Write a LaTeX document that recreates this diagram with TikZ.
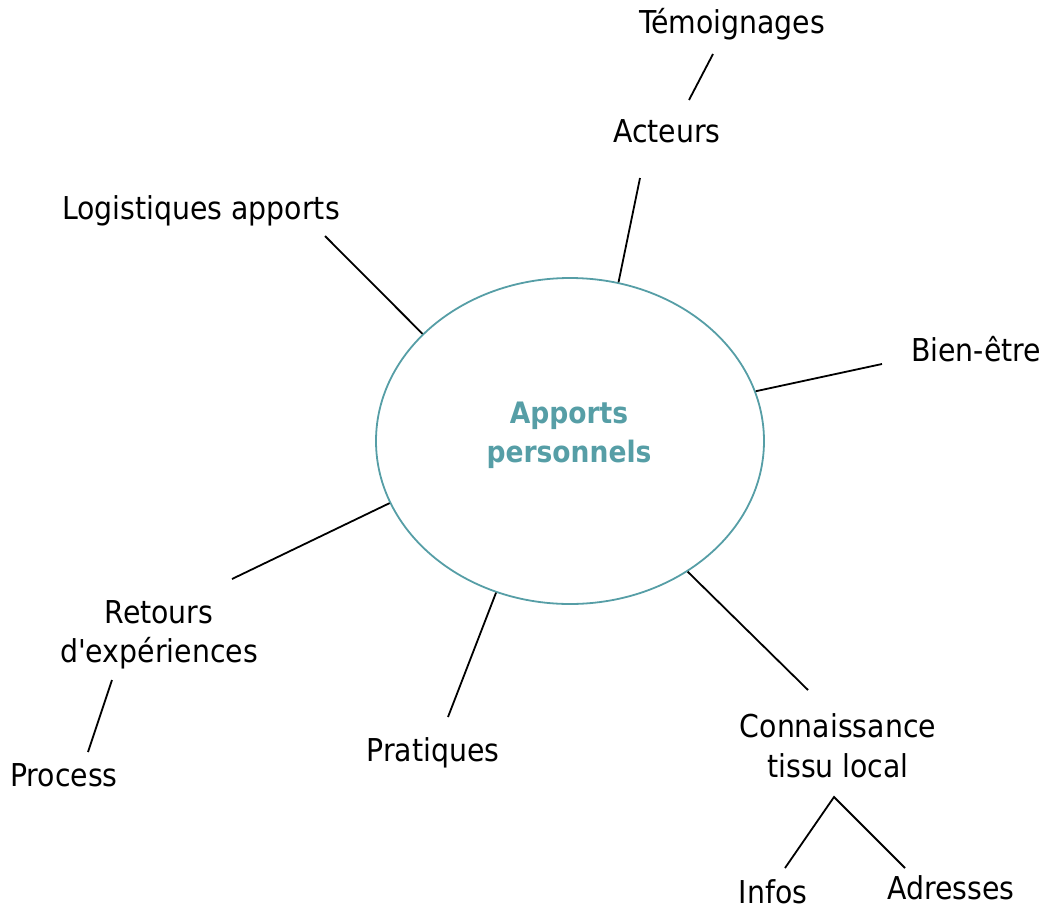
\documentclass[tikz,border=0pt]{standalone}
\usepackage{fontspec}
\usetikzlibrary{shapes.geometric}
\newfontfamily\lblfont{DejaVu Sans Condensed}
\definecolor{tealc}{RGB}{86,158,166}
\begin{document}
\begin{tikzpicture}[x=1pt,y=-1pt,
  lbl/.style={inner sep=0pt,anchor=base,font=\lblfont\fontsize{31.5}{40}\selectfont,align=center},
  ctr/.style={inner sep=0pt,anchor=base,font=\lblfont\fontsize{29.5}{40}\selectfont\bfseries,text=tealc,align=center},
  conn/.style={draw=black,line width=1.8pt}]
\useasboundingbox (0,0) rectangle (1052,910);
\node[draw=tealc,line width=1.8pt,ellipse,minimum width=388pt,minimum height=326pt,inner sep=0pt] (el) at (570,441) {};
\node[ctr] (c1) at (569,423) {Apports};
\node[ctr] (c2) at (569,462) {personnels};
\node[lbl] (tem) at (732,33) {Témoignages};
\node[lbl] (act) at (667,142) {Acteurs};
\node[lbl] (log) at (201,219) {Logistiques apports};
\node[lbl] (bien) at (976,361) {Bien-être};
\node[lbl] (ret1) at (159,623) {Retours};
\node[lbl] (ret2) at (159,662) {d'expériences};
\node[lbl] (proc) at (64,786) {Process};
\node[lbl] (prat) at (433,761) {Pratiques};
\node[lbl] (con1) at (838,737) {Connaissance};
\node[lbl] (con2) at (838,777) {tissu local};
\node[lbl] (inf) at (773,903) {Infos};
\node[lbl] (adr) at (951,899) {Adresses};
\coordinate (temA) at (713,54);
\coordinate (actA) at (689,100);
\coordinate (actB) at (640,178);
\coordinate (logA) at (325,236);
\coordinate (bienA) at (882,364);
\coordinate (retA) at (232,579);
\coordinate (retB) at (112,680);
\coordinate (procA) at (88,752);
\coordinate (pratA) at (448,717);
\coordinate (conA) at (808,690);
\coordinate (conB) at (834,797);
\coordinate (infA) at (785,868);
\coordinate (adrA) at (905,868);
\draw[conn] (temA) -- (actA);
\draw[conn] (actB) -- (el.73);
\draw[conn] (logA) -- (el.144);
\draw[conn] (bienA) -- (el.15.5);
\draw[conn] (retA) -- (el.199);
\draw[conn] (retB) -- (procA);
\draw[conn] (pratA) -- (el.244.6);
\draw[conn] (conA) -- (el.312.7);
\draw[conn] (infA) -- (conB) -- (adrA);
\end{tikzpicture}
\end{document}
